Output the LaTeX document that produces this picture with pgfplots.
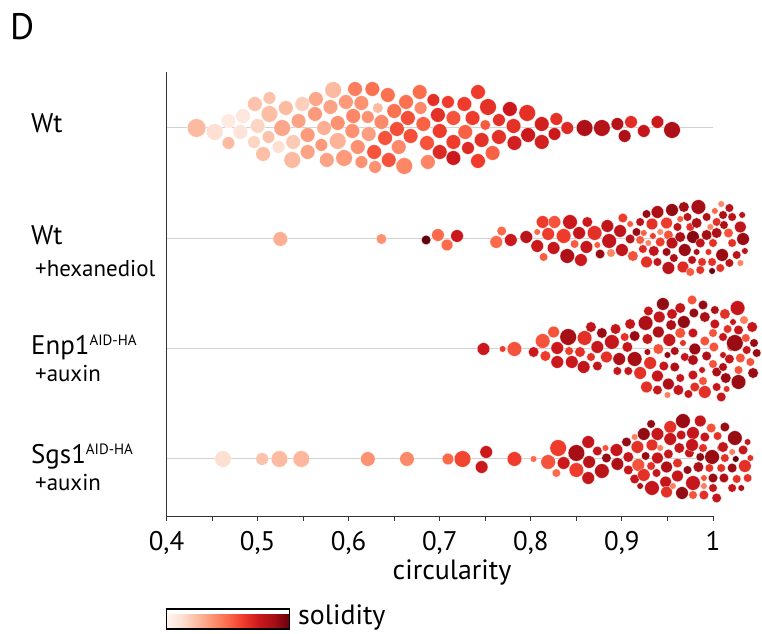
\documentclass[border=0pt]{standalone}
\usepackage{pgfplots}
\usepackage{pgfplotstable}
\pgfplotsset{compat=1.18}
\usepackage{fontspec}
\setmainfont{PT Sans}

\pgfplotstableread{
x y r c
0.433 128 9 2
0.453 132 8 1
0.468 121 7 0.5
0.468 143 6 2
0.484 116 7 0.6
0.481 132 7 0.8
0.497 104 7 1.8
0.513 98 6 1.8
0.500 126 7 1.3
0.496 142 6 1.3
0.512 137 6 1.8
0.513 114 8 1.9
0.506 154 7 1.9
0.523 147 6 1.0
0.531 108 7 2
0.527 128 8 2.5
0.539 142 7 1.6
0.538 160 8 2
0.549 104 7 1.5
0.545 121 7 2.6
0.555 135 7 2.8
0.555 152 7 2.6
0.564 99 7 2.5
0.563 114 7 2.8
0.573 128 7 2.3
0.570 145 6 2.8
0.576 160 7 2.6
0.583 90 8 2
0.580 107 7 2.6
0.588 123 7 3
0.588 141 8 2.2
0.595 158 8 2.8
0.597 102 7 2.8
0.607 89 7 3.5
0.605 116 7 3.3
0.604 131 7 3
0.610 147 7 3
0.614 162 6 3
0.614 103 7 3
0.621 117 6 3
0.622 134 7 2.7
0.626 89 7 3.8
0.632 108 5 2
0.628 152 7 4.5
0.629 167 6 3
0.636 122 7 3.2
0.640 138 7 4.5
0.643 95 7 3.8
0.644 160 7 4.5
0.650 111 7 3.8
0.653 129 7 4.6
0.655 147 7 3.2
0.663 102 7 3.8
0.665 118 7 4.6
0.668 136 7 4.6
0.661 166 8 3.3
0.678 92 7 3.9
0.679 108 6 3.2
0.682 124 7 4.2
0.686 143 7 4.5
0.687 162 7 3.3
0.693 100 6 5.3
0.698 115 7 5.3
0.700 131 7 5
0.700 152 7 5.5
0.709 102 6 5
0.715 118 7 4.5
0.715 142 7 5
0.715 158 7 6
0.727 104 7 5
0.728 132 7 4.2
0.736 118 7 5
0.731 148 6 5.5
0.742 92 7 5
0.746 140 7 5.3
0.742 161 7 5
0.753 107 8 5.3
0.750 125 5 4.3
0.758 153 7 4.2
0.765 120 6 5.3
0.765 137 7 5.3
0.777 109 7 6
0.781 126 7 5.3
0.782 143 7 5.8
0.796 113 8 5.3
0.797 135 7 6
0.812 124 7 5.8
0.812 142 7 5.8
0.828 119 6 5.3
0.826 134 6 6
0.840 128 6 5.5
0.859 128 8 6.8
0.878 128 8 6.6
0.895 124 6 6.6
0.903 136 6 6.8
0.910 122 6 5.4
0.924 131 6 6.2
0.939 122 6 6
0.955 130 8 6.8
}\rowA

\pgfplotstableread{
x y r c
0.525 239 7 2.3
0.636 239 5 3
0.685 240 4.5 8
0.698 235 6 4
0.708 245 5.5 4
0.719 236 6 6
0.768 231 4.5 4
0.762 242 6 4
0.778 240 6 6
0.795 237 6 6.5
0.813 222 6 5
0.807 232 3 4
0.807 246 6 6
0.814 257 4 4.3
0.826 222 6 4.5
0.819 234 6 5
0.836 236 7 5
0.825 248 6 6.2
0.843 222 7 6
0.848 244 4 4.3
0.840 256 7 6.8
0.853 233 6 6.2
0.862 222 5 6
0.861 247 6 6.2
0.855 260 6 6
0.870 233 7 5.3
0.873 245 3 4.3
0.876 254 4.5 7.2
0.884 226 6 6.3
0.886 241 7 6.3
0.888 253 4 3.3
0.898 231 6 6.3
0.901 218 4.5 5
0.900 250 6 6.3
0.909 224 3 4.3
0.916 232 4 7.2
0.909 239 4.5 6.5
0.912 256 5 4.5
0.927 214 4 7.3
0.920 222 4 6.5
0.920 240 4 4.3
0.924 233 3 4.2
0.923 249 4 5.5
0.927 262 5.5 5.3
0.933 224 5.5 5.3
0.934 236 3 5
0.929 243 3 3.3
0.935 251 5 6.3
0.939 212 6 6.8
0.942 232 3 3.2
0.942 242 4.5 5
0.939 262 4 6.2
0.949 223 5.5 5
0.951 235 4.5 4.5
0.949 252 4 7.2
0.951 268 6 6.5
0.955 210 6 7.3
0.961 227 4 6.5
0.955 243 5.5 6.5
0.957 258 4 6.8
0.964 219 3 4.3
0.964 237 5 6.8
0.967 267 5.5 5.5
0.968 207 5 7
0.972 217 4 6.5
0.969 250 6 7.2
0.975 227 4 5.3
0.978 237 6 7.5
0.975 272 4 4.3
0.977 260 4 6.5
0.984 207 7 7
0.982 223 5 6.8
0.986 243 4.5 6.3
0.982 252 3 6.8
0.988 262 4 5.3
0.986 270 4 5.3
0.993 217 4 6.8
0.997 227 3 3.3
0.993 235 5 7
0.995 252 3 5.3
0.999 271 3 8
1.002 211 3 4
1.004 222 4 5.3
1.004 233 5 6.8
1.000 243 4 5.3
0.999 262 4 5.3
1.009 204 3 3.3
1.011 215 4 6.8
1.012 225 4 6.8
1.010 255 6 7.2
1.008 268 4 5.3
1.018 208 4 6.5
1.021 217 4 6.5
1.017 233 4.5 4.5
1.021 243 4 5.3
1.018 263 4 6.5
1.030 227 5.5 6.3
1.033 239 6 7.2
1.032 215 3 6.5
1.035 251 3 6.5
1.026 255 4 6.5
1.030 263 3 3.3
}\rowB

\pgfplotstableread{
x y r c
0.748 349 6 6
0.769 349 3 5
0.782 349 7 4.5
0.803 352 5 6
0.813 341 7 4.5
0.816 356 5 5
0.825 332 5.5 4.5
0.829 348 6 6
0.829 362 6 6
0.841 337 8 7
0.842 351 4 5
0.845 362 6 6
0.859 338 7 5.3
0.854 352 5 5.3
0.858 367 6 6.3
0.866 327 5 6.3
0.873 347 6 6.2
0.866 357 4 5.3
0.873 366 4.5 6.3
0.878 333 5 7.2
0.883 357 5.5 5.3
0.889 342 7 6.2
0.893 329 5 6.2
0.897 359 6 6.8
0.895 371 4 6.2
0.903 337 4 5.3
0.906 347 5 6.2
0.907 371 4 6.2
0.909 324 5 6.2
0.914 336 5 7.2
0.914 359 7 7
0.920 373 6 5.3
0.926 323 7 6.8
0.928 339 5 6.2
0.929 311 4.5 6.2
0.927 387 5.5 5.3
0.931 363 6 5.3
0.928 352 3 7
0.940 349 5 4.5
0.940 332 5.5 6.8
0.941 317 5.5 6.2
0.939 376 5.5 6.2
0.939 390 4.5 6.2
0.945 304 6 7.3
0.950 355 3 7.3
0.946 366 4.5 6.2
0.952 340 6 6.2
0.950 395 3 3.5
0.951 384 5.5 6.8
0.955 314 5 6.2
0.954 325 5 6.8
0.964 333 5 4.5
0.964 308 5 6.2
0.958 351 4 6.8
0.958 367 4.5 6.8
0.964 378 4 6.2
0.962 390 5 6.2
0.968 322 6 7.3
0.969 357 4 6.2
0.967 343 3 5.3
0.973 394 4 6.2
0.977 300 4.5 4.5
0.979 313 4.5 7.3
0.978 333 4.5 6.2
0.980 349 5.5 7.2
0.978 360 5 6.8
0.978 375 4.5 6.2
0.980 387 4.5 5.3
0.989 305 4.5 7.3
0.991 317 5 6.8
0.991 341 4.5 4.5
0.993 356 4.5 6.8
0.988 370 3 6.2
0.989 381 4 4.5
0.991 392 6 5.3
1.002 310 4 6.8
1.002 324 4.5 6.2
1.000 333 4 4.5
1.001 347 4.5 4.5
1.000 364 4 4.5
1.004 372 4.5 6.8
1.004 387 4 6.2
1.011 337 4 6.2
1.013 314 5 5.3
1.011 355 3 6.2
1.011 367 4 6.8
1.014 378 5 7.2
1.015 389 3 5.3
1.009 397 4.5 6.2
1.016 329 4 5.3
1.020 347 4 5.3
1.018 359 4.5 6.2
1.022 322 3 6.2
1.027 308 7 6.2
1.024 343 8 7.2
1.028 330 4.5 6.2
1.030 358 4.5 4.5
1.028 370 4 4.5
1.028 382 7 7.2
1.034 320 4 3.5
1.036 338 4 4.5
1.037 350 4 6.2
1.041 362 4 4.5
1.043 327 5 6.2
1.045 343 4 7.2
1.044 373 5 7.2
1.048 353 4 7.2
}\rowC

\pgfplotstableread{
x y r c
0.462 459 8 1
0.505 459 6 1.8
0.524 459 8 2
0.548 459 8 2.1
0.621 459 7 3
0.664 459 7 3.2
0.709 459 5.5 4
0.725 459 8 4.8
0.751 452 6 6
0.746 467 6 6
0.782 459 7 5
0.803 459 3 4
0.819 462 7 4.5
0.830 448 8 5
0.828 473 4 4
0.836 463 6 6
0.850 453 8 7
0.850 470 7 5
0.863 442 6 6.2
0.864 462 6 6.5
0.863 478 6 6.2
0.873 451 4.5 6.2
0.878 471 7 6.5
0.882 448 3 4.5
0.883 458 4.5 7.3
0.894 450 6 6.2
0.895 464 6 6.8
0.905 442 4.5 7.3
0.907 457 5 6.2
0.907 470 4.5 6.2
0.914 437 3 3.5
0.918 465 6 4.5
0.917 447 6 5.3
0.914 479 4.5 6.2
0.920 486 3 6.8
0.924 434 6 7.3
0.926 456 4 7.3
0.924 475 6 5.3
0.932 424 4 7.3
0.933 445 5.5 5.3
0.932 466 4 5.3
0.933 488 7 6.2
0.939 434 6 6.2
0.942 448 3 3.5
0.939 458 5.5 6.2
0.938 473 4 6.2
0.948 482 5.5 6.2
0.949 492 5.5 5.3
0.953 427 6 5.3
0.953 439 6 6.2
0.951 454 4.5 6.2
0.949 467 5.5 6.8
0.956 486 3 3.5
0.961 476 5.5 6.2
0.961 463 4.5 5.3
0.963 448 5 6.2
0.965 435 4.5 6.2
0.967 421 7 7.2
0.966 493 6 7.3
0.972 470 4 7.3
0.974 453 4.5 6.2
0.978 433 6 6.2
0.977 445 6 6.2
0.978 483 7 6.2
0.978 495 4 4.5
0.986 421 5.5 6.2
0.984 467 5 6.8
0.986 457 4 7.3
0.991 437 4.5 6.2
0.989 448 4 5.3
0.990 478 3 4.5
0.990 486 3 3.5
0.990 495 4.5 5.3
0.998 428 4.5 4.5
0.999 457 7 7.2
0.996 468 4 5.3
1.000 478 4.5 7.2
1.000 488 4 6.2
1.004 498 4.5 6.2
1.005 436 4 5.3
1.008 448 3 6.2
1.009 468 4 5.3
1.012 478 4.5 6.8
1.013 427 4.5 7.2
1.011 447 5 6.2
1.013 458 4 5.3
1.021 488 4 6.2
1.021 452 3 3.5
1.024 438 7 7.2
1.025 459 3 8
1.021 468 4.5 7.2
1.026 479 4 5.3
1.033 450 4.5 6.2
1.031 488 3 6.8
1.035 466 6 5.3
1.038 478 4 5.3
1.041 458 3 5.3
1.038 442 3 6.2
}\rowD

\pgfplotsset{
  swarm/.style={scatter, only marks, mark=*, point meta=explicit,
    scatter/use mapped color={draw=white, fill=mapped color},
    mark options={line width=0.25bp},
    visualization depends on={\thisrow{r}\as\rr},
    scatter/@pre marker code/.append style={/tikz/mark size=\rr bp+0.3bp}},
}

\begin{document}
\begin{tikzpicture}[x=1bp,y=1bp]
\path (0,0) rectangle (762,634);
\begin{axis}[
  at={(166.5bp,118bp)}, anchor=south west,
  scale only axis, width=546.5bp, height=444bp,
  xmin=0.4, xmax=1.0, ymin=72, ymax=516, y dir=reverse,
  clip=false,
  axis x line*=bottom, axis y line*=left,
  axis line style={draw=black!80, line width=0.9bp, -},
  xtick={0.4,0.5,0.6,0.7,0.8,0.9,1.0},
  minor xtick={0.45,0.55,0.65,0.75,0.85,0.95},
  ytick=\empty,
  tick align=outside, major tick length=5bp, minor tick length=5bp,
  tick style={black!80, line width=0.9bp},
  xticklabel style={font=\fontsize{27}{30}\selectfont, yshift=-7bp, /pgf/number format/.cd, use comma, fixed, precision=1, assume math mode=true},
  colormap={reds}{rgb255=(255,245,240) rgb255=(254,224,210) rgb255=(252,187,161) rgb255=(252,146,114) rgb255=(251,106,74) rgb255=(239,59,44) rgb255=(203,24,29) rgb255=(165,15,21) rgb255=(103,0,13)},
  point meta min=0, point meta max=8,
  colorbar horizontal,
  colorbar style={
    at={(0,-0.2095)}, anchor=north west,
    scale only axis, width=123bp, height=20bp,
    axis lines=box,
    xtick=\empty, ytick=\empty,
    axis line style={draw=black, line width=1.6bp},
  },
]
\addplot[black!18, line width=1bp] coordinates {(0.4,128) (1.0,128)};
\addplot[black!18, line width=1bp] coordinates {(0.4,239) (1.0,239)};
\addplot[black!18, line width=1bp] coordinates {(0.4,349) (1.0,349)};
\addplot[black!18, line width=1bp] coordinates {(0.4,459) (1.0,459)};
\addplot[swarm] table[x=x, y=y, meta=c] {\rowA};
\addplot[swarm] table[x=x, y=y, meta=c] {\rowB};
\addplot[swarm] table[x=x, y=y, meta=c] {\rowC};
\addplot[swarm] table[x=x, y=y, meta=c] {\rowD};
\end{axis}
\node[anchor=base west, inner sep=0, font=\fontsize{37}{42}\selectfont] at (10,594) {D};
\node[anchor=base west, inner sep=0, font=\fontsize{27}{30}\selectfont] at (31,501) {Wt};
\node[anchor=base west, inner sep=0, font=\fontsize{27}{30}\selectfont] at (31,389) {Wt};
\node[anchor=base west, inner sep=0, font=\fontsize{23}{27}\selectfont] at (35,357) {+hexanediol};
\node[anchor=base west, inner sep=0, font=\fontsize{27}{30}\selectfont] at (31,279) {Enp1\raisebox{9bp}{\fontsize{15}{17}\selectfont AID-HA}};
\node[anchor=base west, inner sep=0, font=\fontsize{23}{27}\selectfont] at (35,252) {+auxin};
\node[anchor=base west, inner sep=0, font=\fontsize{27}{30}\selectfont] at (31,170) {Sgs1\raisebox{9bp}{\fontsize{15}{17}\selectfont AID-HA}};
\node[anchor=base west, inner sep=0, font=\fontsize{23}{27}\selectfont] at (35,143) {+auxin};
\node[anchor=base, inner sep=0, font=\fontsize{28}{32}\selectfont] at (452,54) {circularity};
\node[anchor=base west, inner sep=0, font=\fontsize{28}{32}\selectfont] at (298,9) {solidity};
\end{tikzpicture}
\end{document}
